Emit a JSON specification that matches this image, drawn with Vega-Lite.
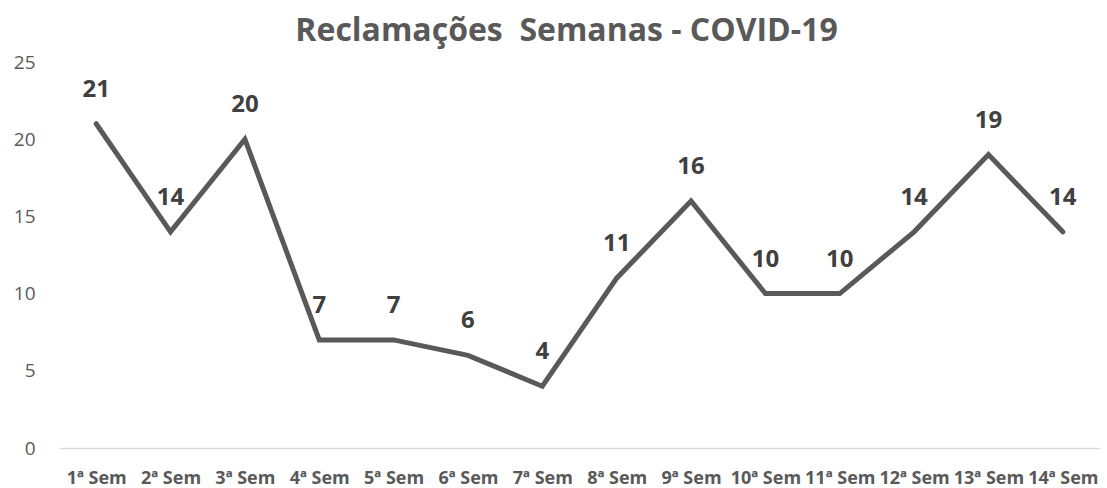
{
  "$schema": "https://vega.github.io/schema/vega-lite/v6.json",
  "autosize": "none",
  "width": 1041,
  "height": 386,
  "padding": {"left": 59, "top": 62, "right": 7, "bottom": 40},
  "background": "white",
  "title": {
    "text": "Reclamações\u00a0 Semanas - COVID-19",
    "font": "Open Sans",
    "fontSize": 32,
    "fontWeight": "bold",
    "color": "#595959",
    "anchor": "middle",
    "dx": -13,
    "offset": 5
  },
  "data": {
    "values": [
      {"semana": "1ª Sem", "valor": 21},
      {"semana": "2ª Sem", "valor": 14},
      {"semana": "3ª Sem", "valor": 20},
      {"semana": "4ª Sem", "valor": 7},
      {"semana": "5ª Sem", "valor": 7},
      {"semana": "6ª Sem", "valor": 6},
      {"semana": "7ª Sem", "valor": 4},
      {"semana": "8ª Sem", "valor": 11},
      {"semana": "9ª Sem", "valor": 16},
      {"semana": "10ª Sem", "valor": 10},
      {"semana": "11ª Sem", "valor": 10},
      {"semana": "12ª Sem", "valor": 14},
      {"semana": "13ª Sem", "valor": 19},
      {"semana": "14ª Sem", "valor": 14}
    ]
  },
  "encoding": {
    "x": {
      "field": "semana",
      "type": "nominal",
      "sort": null,
      "scale": {"type": "point", "padding": 0.5},
      "axis": {
        "title": null,
        "labelAngle": 0,
        "labelFont": "Open Sans",
        "labelFontSize": 18,
        "labelFontWeight": "bold",
        "labelColor": "#595959",
        "labelPadding": 21,
        "ticks": false,
        "domainColor": "#d9d9d9",
        "domainWidth": 1.5,
        "grid": false,
        "labelOverlap": false
      }
    },
    "y": {
      "field": "valor",
      "type": "quantitative",
      "scale": {"domain": [0, 25], "nice": false},
      "axis": {
        "title": null,
        "values": [0, 5, 10, 15, 20, 25],
        "labelFont": "Open Sans",
        "labelFontSize": 19,
        "labelColor": "#595959",
        "labelPadding": 24,
        "ticks": false,
        "domain": false,
        "grid": false
      }
    }
  },
  "layer": [
    {
      "mark": {"type": "line", "color": "#595959", "strokeWidth": 5, "strokeJoin": "miter", "strokeCap": "round"}
    },
    {
      "mark": {"type": "text", "font": "Open Sans", "fontSize": 24, "fontWeight": "bold", "color": "#404040", "dy": -34},
      "encoding": {"text": {"field": "valor", "type": "quantitative"}}
    }
  ],
  "config": {"view": {"stroke": null}}
}
